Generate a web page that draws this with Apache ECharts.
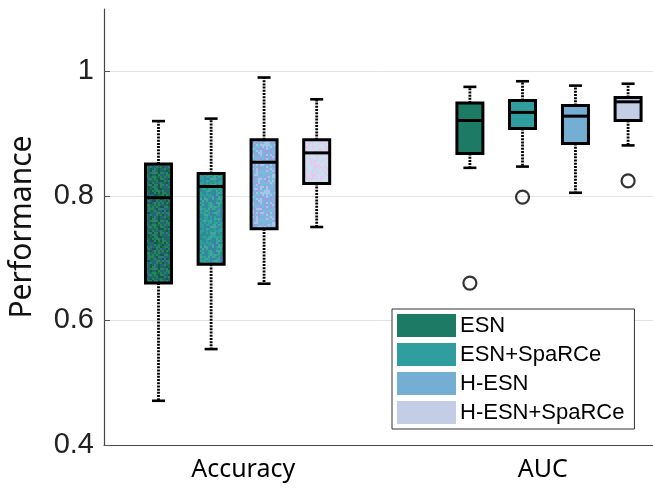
<!DOCTYPE html>
<html>
<head>
<meta charset="utf-8">
<script src="https://cdn.jsdelivr.net/npm/echarts@6/dist/echarts.min.js"></script>
<style>html,body{margin:0;padding:0;background:#fff}#c{width:653px;height:491px}</style>
</head>
<body>
<div id="c"></div>
<script>
// ---- data ----
const categories = ['Accuracy', 'AUC'];
const methods = ['ESN', 'ESN+SpaRCe', 'H-ESN', 'H-ESN+SpaRCe'];
// [min, q1, median, q3, max] for Accuracy, AUC
const esnStats     = [[0.471, 0.660, 0.797, 0.851, 0.920], [0.845, 0.868, 0.921, 0.949, 0.975]];
const esnSpStats   = [[0.554, 0.690, 0.815, 0.836, 0.924], [0.847, 0.908, 0.934, 0.953, 0.984]];
const hesnStats    = [[0.659, 0.747, 0.854, 0.890, 0.990], [0.805, 0.884, 0.928, 0.945, 0.977]];
const hesnSpStats  = [[0.750, 0.820, 0.869, 0.890, 0.955], [0.881, 0.921, 0.951, 0.958, 0.980]];
// outliers per category
const esnOutliers    = [[], [0.660]];
const esnSpOutliers  = [[], [0.798]];
const hesnOutliers   = [[], []];
const hesnSpOutliers = [[], [0.824]];
const yTicks = [0.4, 0.6, 0.8, 1];

// ---- styles ----
const allStats = [esnStats, esnSpStats, hesnStats, hesnSpStats];
const allOutliers = [esnOutliers, esnSpOutliers, hesnOutliers, hesnSpOutliers];
const solidColors = ['#1c7a65', '#309d9f', '#74afd3', '#c3cde5'];
const noisePalettes = [
  ['#1a6b5a', '#2a5f8a', '#1f8a4e', '#15584a', '#2f7d6e'],
  ['#2e9c9a', '#3a7fb0', '#28a890', '#4aa3a0', '#2b8f8c'],
  ['#7fb2db', '#9a9ee0', '#6fc0d8', '#a8c4e8', '#8cb0e0'],
  ['#d4dcf0', '#e8c8e8', '#c0e4f0', '#dcd0f0', '#cfd8ee']
];
const offsets = [-0.254, -0.085, 0.085, 0.254];
const labelPos = [1.018, 1.98];

function hash(a, b, k) {
  let h = (a * 374761393 + b * 668265263 + k * 2246822519) | 0;
  h = Math.imul(h ^ (h >>> 13), 1274126177);
  h = h ^ (h >>> 16);
  return (h >>> 0) / 4294967296;
}
function makeNoise(pal, k) {
  const cv = document.createElement('canvas');
  cv.width = 48; cv.height = 48;
  const ctx = cv.getContext('2d');
  for (let i = 0; i < 24; i++) for (let j = 0; j < 24; j++) {
    const r = hash(i, j, k);
    ctx.fillStyle = pal[Math.floor(r * pal.length)];
    ctx.fillRect(i * 2, j * 2, 2, 2);
  }
  return cv;
}
const patterns = noisePalettes.map((p, k) => ({ image: makeNoise(p, k + 1), repeat: 'repeat' }));

const HALF = 13;
function renderBox(si) {
  return function (params, api) {
    const x = api.value(0);
    const mn = api.coord([x, api.value(1)]);
    const q1 = api.coord([x, api.value(2)]);
    const md = api.coord([x, api.value(3)]);
    const q3 = api.coord([x, api.value(4)]);
    const mx = api.coord([x, api.value(5)]);
    const cx = mn[0];
    const fill = params.dataIndex === 0 ? patterns[si] : solidColors[si];
    const dash = { stroke: '#000', lineWidth: 2.8, lineDash: [2, 1.2] };
    const cap = { stroke: '#000', lineWidth: 2.6 };
    return {
      type: 'group',
      children: [
        { type: 'line', shape: { x1: cx, y1: q3[1], x2: cx, y2: mx[1] }, style: dash },
        { type: 'line', shape: { x1: cx, y1: q1[1], x2: cx, y2: mn[1] }, style: dash },
        { type: 'line', shape: { x1: cx - 6.5, y1: mx[1], x2: cx + 6.5, y2: mx[1] }, style: cap },
        { type: 'line', shape: { x1: cx - 6.5, y1: mn[1], x2: cx + 6.5, y2: mn[1] }, style: cap },
        { type: 'rect', shape: { x: cx - HALF, y: q3[1], width: HALF * 2, height: q1[1] - q3[1] },
          style: { fill: fill, stroke: '#000', lineWidth: 3 } },
        { type: 'line', shape: { x1: cx - HALF, y1: md[1], x2: cx + HALF, y2: md[1] },
          style: { stroke: '#000', lineWidth: 3 } }
      ]
    };
  };
}

const series = [];
methods.forEach((m, si) => {
  series.push({
    name: m,
    type: 'custom',
    renderItem: renderBox(si),
    itemStyle: { color: solidColors[si] },
    encode: { x: 0, y: [1, 2, 3, 4, 5] },
    data: allStats[si].map((s, j) => [j + 1 + offsets[si]].concat(s)),
    z: 3
  });
});
methods.forEach((m, si) => {
  const pts = [];
  allOutliers[si].forEach((arr, j) => arr.forEach(v => pts.push([j + 1 + offsets[si], v])));
  series.push({
    name: m + ' outliers',
    type: 'scatter',
    symbol: 'circle',
    symbolSize: 13,
    itemStyle: { color: 'rgba(255,255,255,0)', borderColor: '#000', borderWidth: 2.2 },
    data: pts,
    z: 4,
    silent: true
  });
});

const chart = echarts.init(document.getElementById('c'), null, { renderer: 'canvas' });
chart.setOption({
  animation: false,
  backgroundColor: '#fff',
  grid: { left: 104, top: 9, right: 0, bottom: 46, containLabel: false, outerBoundsMode: 'none' },
  xAxis: {
    type: 'value',
    min: 0.571, max: 2.334,
    axisLine: { show: true, onZero: false, lineStyle: { color: '#444', width: 1.2 } },
    axisTick: { show: false },
    splitLine: { show: false },
    axisLabel: {
      customValues: labelPos,
      formatter: v => categories[v < 1.5 ? 0 : 1],
      fontFamily: 'Noto Sans', fontSize: 25, color: '#000', margin: 12
    }
  },
  yAxis: {
    type: 'value',
    min: 0.4, max: 1.1, interval: 0.2,
    name: 'Performance',
    nameLocation: 'middle',
    nameRotate: 90,
    nameGap: 67,
    nameTextStyle: { fontFamily: 'Noto Sans', fontSize: 30, color: '#111' },
    axisLine: { show: true, lineStyle: { color: '#444', width: 1.2 } },
    axisTick: { show: true, inside: true, length: 6, customValues: yTicks, lineStyle: { color: '#555' } },
    axisLabel: {
      customValues: yTicks,
      formatter: v => String(Math.round(v * 10) / 10),
      fontFamily: 'Liberation Sans', fontSize: 29, color: '#222', margin: 10
    },
    splitLine: { show: true, lineStyle: { color: '#e3e3e3', width: 1 } }
  },
  legend: {
    data: methods,
    orient: 'vertical',
    left: 392, top: 309,
    icon: 'rect',
    itemWidth: 59, itemHeight: 23, itemGap: 6,
    padding: [5, 10, 5, 5],
    borderColor: '#333', borderWidth: 1,
    backgroundColor: '#fff',
    itemStyle: { borderWidth: 0 },
    textStyle: { fontFamily: 'Liberation Sans', fontSize: 22, color: '#000', padding: [0, 0, 0, -1] }
  },
  series: series
});
</script>
</body>
</html>
